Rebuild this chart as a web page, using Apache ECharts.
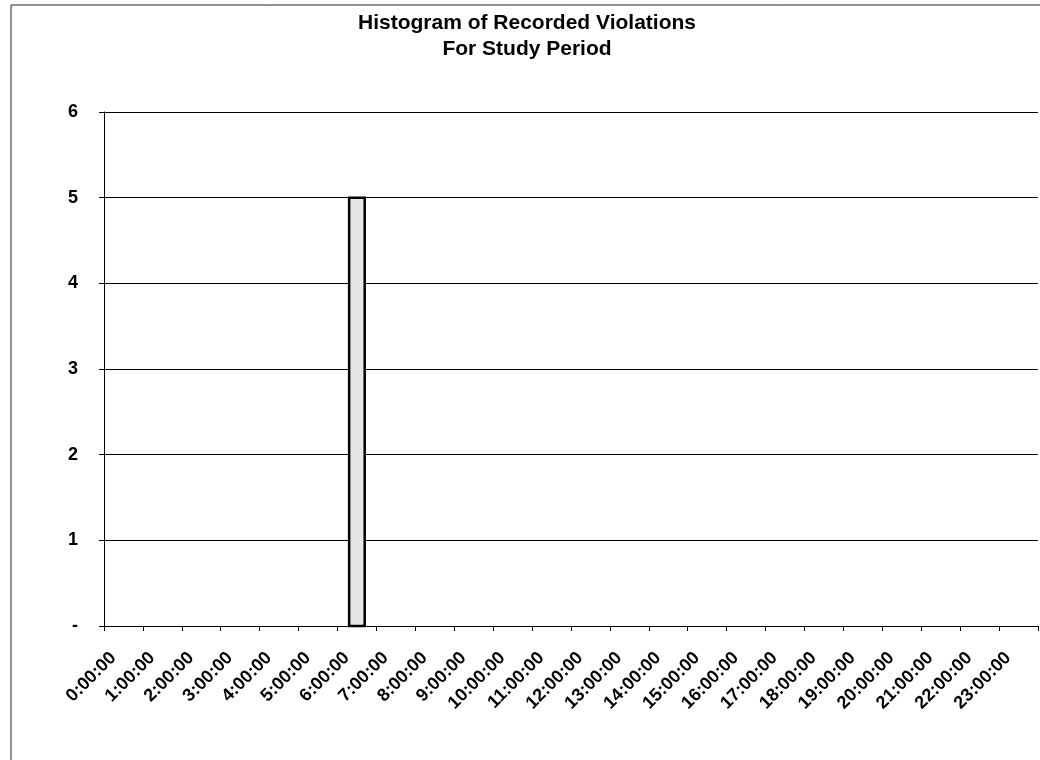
<!DOCTYPE html>
<html>
<head>
<meta charset="utf-8">
<script src="https://cdn.jsdelivr.net/npm/echarts@6/dist/echarts.min.js"></script>
<style>
  html, body { margin: 0; padding: 0; background: #fff; }
  #chart { width: 1040px; height: 760px; }
</style>
</head>
<body>
<div id="chart"></div>
<script>
// Histogram bin edges (hours of day) and number of recorded violations in each
const binStart = [6.3];
const binEnd = [6.7];
const counts = [5];

// Hour ticks shown along the time axis
const hourTicks = [0, 1, 2, 3, 4, 5, 6, 7, 8, 9, 10, 11, 12, 13, 14, 15, 16, 17, 18, 19, 20, 21, 22, 23];
const yTicks = [0, 1, 2, 3, 4, 5, 6];

const FONT = '"Liberation Sans", Arial, sans-serif';

const data = binStart.map((s, i) => [s, binEnd[i], counts[i]]);

const chart = echarts.init(document.getElementById('chart'), null, { renderer: 'canvas' });

chart.setOption({
  backgroundColor: '#ffffff',
  animation: false,
  title: {
    text: 'Histogram of Recorded Violations\nFor Study Period',
    left: 522,
    textAlign: 'center',
    top: 5,
    textStyle: {
      fontFamily: FONT,
      fontWeight: 'bold',
      fontSize: 21,
      lineHeight: 26,
      color: '#000'
    }
  },
  graphic: [{
    type: 'rect',
    silent: true,
    shape: { x: 11, y: 5, width: 1200, height: 900 },
    style: { fill: 'none', stroke: '#222', lineWidth: 1 }
  }],
  grid: { left: 104, right: 0, top: 112, bottom: 134 },
  xAxis: {
    type: 'value',
    min: 0,
    max: 24,
    interval: 1,
    axisLine: { show: true, lineStyle: { color: '#000', width: 1 } },
    axisTick: { show: true, length: 5, lineStyle: { color: '#000' } },
    splitLine: { show: false },
    axisLabel: {
      rotate: 45,
      margin: 20,
      verticalAlign: 'top',
      lineHeight: 26,
      fontFamily: FONT,
      fontWeight: 'bold',
      fontSize: 18,
      color: '#000',
      formatter: v => hourTicks.includes(v) ? v + ':00:00' : ''
    }
  },
  yAxis: {
    type: 'value',
    min: 0,
    max: 6,
    interval: 1,
    axisLine: { show: true, lineStyle: { color: '#000', width: 1 } },
    axisTick: { show: true, length: 5, lineStyle: { color: '#000' } },
    splitLine: { show: true, lineStyle: { color: '#000', width: 1 } },
    axisLabel: {
      margin: 26,
      fontFamily: FONT,
      fontWeight: 'bold',
      fontSize: 18,
      color: '#000',
      formatter: v => yTicks.includes(v) ? (v === 0 ? '-' : String(v)) : ''
    }
  },
  series: [{
    type: 'custom',
    data: data,
    encode: { x: [0, 1], y: 2 },
    renderItem: (params, api) => {
      const p0 = api.coord([api.value(0), api.value(2)]);
      const p1 = api.coord([api.value(1), 0]);
      return {
        type: 'rect',
        shape: { x: p0[0], y: p0[1], width: p1[0] - p0[0], height: p1[1] - p0[1] },
        style: { fill: '#e6e6e6', stroke: '#000', lineWidth: 2.5 }
      };
    }
  }]
});
</script>
</body>
</html>
